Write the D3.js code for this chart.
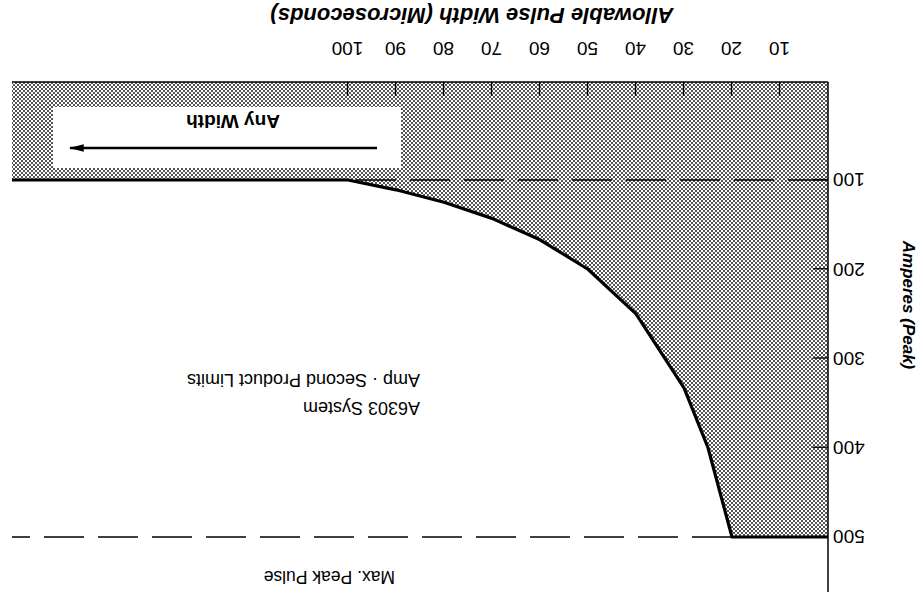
<!DOCTYPE html>
<html><head><meta charset="utf-8">
<script src="https://cdn.jsdelivr.net/npm/d3@7"></script>
<style>body{margin:0;background:#fff}svg{display:block}</style>
</head><body>
<script>
// ---- data ----
const widthTicks = [10, 20, 30, 40, 50, 60, 70, 80, 90, 100];      // µs
const ampTicks = [100, 200, 300, 400, 500];                        // A
const limitWidth = [100, 90, 80, 70, 60, 50, 40, 30, 25, 20];      // µs
const limitAmps  = [100, 111, 125, 143, 167, 200, 250, 333, 400, 500]; // A
const maxPeakAmps = 500;
const anyWidthAmps = 100;
const maxWidthShown = 170;
const xTitle = "Allowable Pulse Width (Microseconds)";
const yTitle = "Amperes (Peak)";
const noteLines = ["A6303 System", "Amp \u00B7 Second Product Limits"];

const W = 923, H = 598;
const FONT = "'Liberation Sans', Arial, Helvetica, sans-serif";
const plotBottom = 516, axisTop = 6;

const svg = d3.select("body").append("svg").attr("width", W).attr("height", H);
const defs = svg.append("defs");
const pat = defs.append("pattern").attr("id", "dots").attr("patternUnits", "userSpaceOnUse")
  .attr("width", 4).attr("height", 4);
pat.append("rect").attr("width", 4).attr("height", 4).attr("fill", "#fff");
pat.append("rect").attr("x", 0).attr("y", 0).attr("width", 2).attr("height", 2).attr("fill", "#555");
pat.append("rect").attr("x", 2).attr("y", 2).attr("width", 2).attr("height", 2).attr("fill", "#555");

// the whole figure is shown rotated by 180 degrees
const g = svg.append("g").attr("transform", `rotate(180 ${W / 2} ${H / 2})`);

const x = d3.scaleLinear().domain([0, maxWidthShown]).range([95, 911]);
const y = d3.scaleLinear().domain([100, 500]).range([418, 61]);
const aBottom = y.invert(plotBottom);

const pts = limitWidth.map((w, i) => [w, limitAmps[i]]);
const line = d3.line().x(d => x(d[0])).y(d => y(d[1]));

// shaded allowed region
const region = [[0, aBottom], [maxWidthShown, aBottom], [maxWidthShown, anyWidthAmps]]
  .concat(pts).concat([[0, maxPeakAmps]]);
g.append("path").attr("d", line(region) + "Z").attr("fill", "url(#dots)");

// white label box with arrow
g.append("rect").attr("x", 522).attr("y", 430).attr("width", 348).attr("height", 61).attr("fill", "#fff");
defs.append("marker").attr("id", "arr").attr("viewBox", "0 0 12 6").attr("refX", 11).attr("refY", 3)
  .attr("markerWidth", 6).attr("markerHeight", 3).attr("markerUnits", "strokeWidth").attr("orient", "auto")
  .append("path").attr("d", "M0,0 L12,3 L0,6 Z").attr("fill", "#000");
g.append("line").attr("x1", 546).attr("x2", 853).attr("y1", 450).attr("y2", 450)
  .attr("stroke", "#000").attr("stroke-width", 2.5).attr("marker-end", "url(#arr)");
g.append("text").attr("x", 690).attr("y", 483).attr("text-anchor", "middle")
  .attr("font-family", FONT).attr("font-weight", "bold").attr("font-size", 19).text("Any Width");

// dashed reference lines
g.append("line").attr("x1", x(0)).attr("x2", x(limitWidth[0])).attr("y1", y(anyWidthAmps)).attr("y2", y(anyWidthAmps))
  .attr("stroke", "#000").attr("stroke-width", 1.5).attr("stroke-dasharray", "40 14");
g.append("line").attr("x1", x(limitWidth[limitWidth.length - 1])).attr("x2", x(maxWidthShown))
  .attr("y1", y(maxPeakAmps)).attr("y2", y(maxPeakAmps))
  .attr("stroke", "#000").attr("stroke-width", 1.5).attr("stroke-dasharray", "40 14");

// boundary
const boundary = [[maxWidthShown, anyWidthAmps]].concat(pts).concat([[0, maxPeakAmps]]);
g.append("path").attr("d", line(boundary)).attr("fill", "none").attr("stroke", "#000")
  .attr("stroke-width", 3.2).attr("stroke-linejoin", "round");

// frame line
g.append("line").attr("x1", x(0)).attr("x2", x(maxWidthShown)).attr("y1", plotBottom).attr("y2", plotBottom)
  .attr("stroke", "#000").attr("stroke-width", 1.5);

// axes
const xAxis = g.append("g").attr("transform", `translate(0,${plotBottom})`)
  .call(d3.axisBottom(x).tickValues(widthTicks).tickSize(-14).tickPadding(27).tickFormat(d3.format("d")));
const yAxis = g.append("g").attr("transform", `translate(${x(0)},0)`)
  .call(d3.axisLeft(y).tickValues(ampTicks).tickSize(-15).tickPadding(5).tickFormat(d3.format("d")));
[xAxis, yAxis].forEach(a => {
  a.select(".domain").remove();
  a.selectAll("line").attr("stroke", "#000").attr("stroke-width", 1.3);
  a.selectAll("text").attr("font-family", FONT).attr("font-size", 19).attr("fill", "#000");
});
g.append("line").attr("x1", x(0)).attr("x2", x(0)).attr("y1", plotBottom).attr("y2", axisTop)
  .attr("stroke", "#000").attr("stroke-width", 1.5);

// titles
g.append("text").attr("x", 451).attr("y", 590).attr("text-anchor", "middle")
  .attr("font-family", FONT).attr("font-weight", "bold").attr("font-style", "italic").attr("font-size", 22)
  .text(xTitle);
g.append("text").attr("transform", "translate(20,293) rotate(-90)").attr("text-anchor", "middle")
  .attr("font-family", FONT).attr("font-weight", "bold").attr("font-style", "italic").attr("font-size", 17)
  .text(yTitle);

// annotations
g.append("text").attr("x", 528).attr("y", 27)
  .attr("font-family", FONT).attr("font-size", 17.5).text("Max. Peak Pulse");
noteLines.forEach((t, i) => {
  g.append("text").attr("x", 503).attr("y", 196 + i * 28)
    .attr("font-family", FONT).attr("font-size", 18).text(t);
});
</script>
</body></html>
